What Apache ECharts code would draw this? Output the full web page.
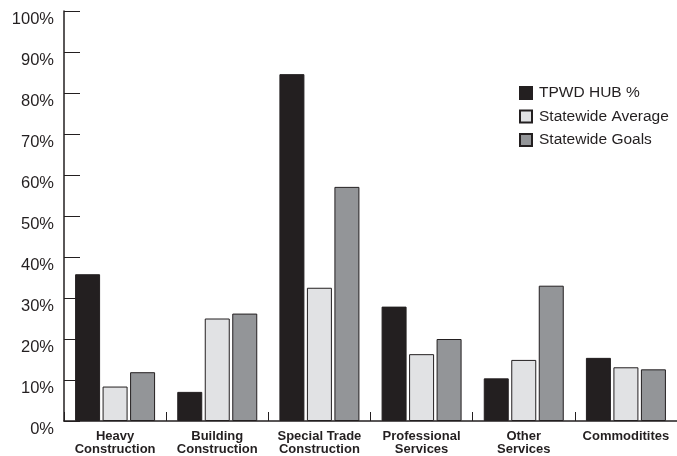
<!DOCTYPE html>
<html>
<head>
<meta charset="utf-8">
<script src="https://cdn.jsdelivr.net/npm/echarts@6/dist/echarts.min.js"></script>
<style>html,body{margin:0;padding:0;background:#fff;}#c{width:677px;height:456px;}</style>
</head>
<body>
<div id="c"></div>
<script>
const categories = ['Heavy\nConstruction', 'Building\nConstruction', 'Special Trade\nConstruction', 'Professional\nServices', 'Other\nServices', 'Commoditites'];
const seriesNames = ['TPWD HUB %', 'Statewide Average', 'Statewide Goals'];
const tpwdHub = [35.8, 7.1, 84.6, 27.9, 10.4, 15.4];
const statewideAverage = [8.4, 25.0, 32.5, 16.3, 14.9, 13.1];
const statewideGoals = [11.9, 26.2, 57.1, 20.0, 33.0, 12.6];
const yTicks = [0, 10, 20, 30, 40, 50, 60, 70, 80, 90, 100];

const dark = '#231f20';
const colors = ['#231f20', '#e1e2e4', '#939598'];
const dataSets = [tpwdHub, statewideAverage, statewideGoals];

const chart = echarts.init(document.getElementById('c'), null, {renderer: 'canvas'});
chart.setOption({
  animation: false,
  backgroundColor: '#fff',
  grid: {left: 64, right: -5, top: 11, bottom: 35, containLabel: false},
  legend: {
    orient: 'vertical', left: 514, top: 80,
    itemWidth: 12, itemHeight: 12, itemGap: 7.5,
    icon: 'rect',
    textStyle: {fontFamily: 'Liberation Sans, Arial, sans-serif', fontSize: 15.5, color: dark, padding: [0, 0, 0, 2]},
    data: seriesNames
  },
  xAxis: {
    type: 'category',
    data: categories,
    axisLine: {lineStyle: {color: dark, width: 1.5}},
    axisTick: {show: true, inside: true, length: 9, alignWithLabel: false, lineStyle: {color: dark, width: 1}},
    axisLabel: {
      interval: 0, margin: 9, verticalAlign: 'top',
      fontFamily: 'Liberation Sans, Arial, sans-serif', fontSize: 13, fontWeight: 'bold', color: dark, lineHeight: 13
    }
  },
  yAxis: {
    type: 'value', min: yTicks[0], max: yTicks[yTicks.length - 1], interval: 10,
    axisLine: {show: true, lineStyle: {color: dark, width: 1.5}},
    axisTick: {show: true, inside: true, length: 16, lineStyle: {color: dark, width: 1}},
    splitLine: {show: false},
    axisLabel: {
      formatter: '{value}%', margin: 10, verticalAlign: 'top',
      fontFamily: 'Liberation Sans, Arial, sans-serif', fontSize: 16.5, color: dark
    }
  },
  series: seriesNames.map((name, i) => ({
    name: name,
    type: 'bar',
    data: dataSets[i],
    barWidth: 25,
    barGap: '10%',
    itemStyle: {color: colors[i], borderColor: dark, borderWidth: 1}
  }))
});
</script>
</body>
</html>
